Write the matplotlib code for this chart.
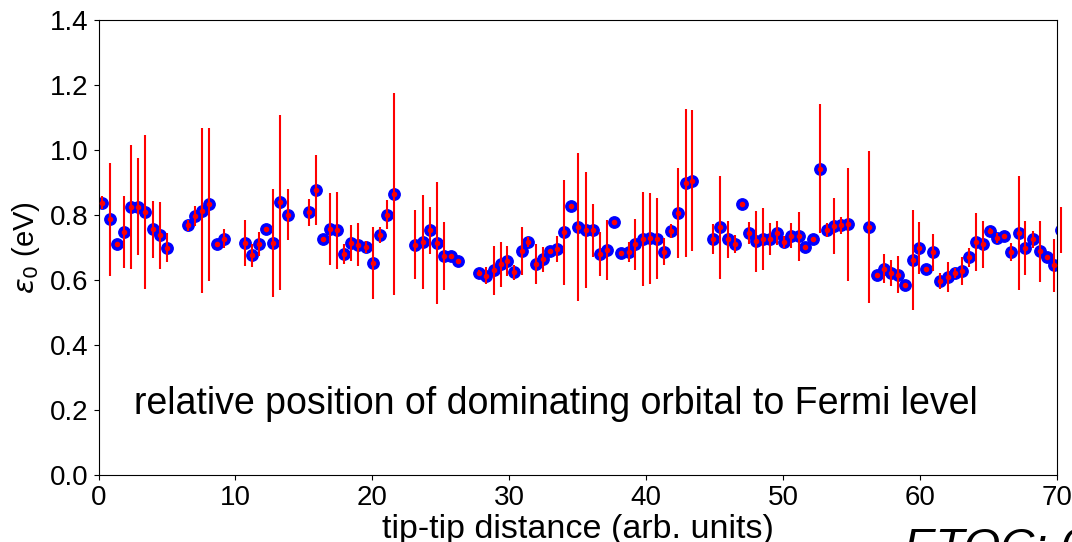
import matplotlib
matplotlib.use("Agg")
import matplotlib.pyplot as plt

# position of the dominating orbital vs tip-tip distance
dist = [0.28, 0.82, 1.35, 1.86, 2.37, 2.91, 3.42, 3.96, 4.47, 4.98,
        6.54, 7.05, 7.56, 8.09, 8.66, 9.15,
        10.68, 11.21, 11.75, 12.24, 12.77, 13.28, 13.82,
        15.35, 15.87, 16.40, 16.93, 17.44, 17.93, 18.47, 18.98, 19.52, 20.05,
        20.54, 21.05, 21.58,
        23.12, 23.68, 24.19, 24.73, 25.22, 25.73, 26.26,
        27.82, 28.33, 28.87, 29.38, 29.86, 30.35, 30.94, 31.40, 31.96, 32.47,
        33.00, 33.51, 34.02, 34.51, 35.05, 35.59, 36.14, 36.63, 37.14, 37.66,
        38.17, 38.75, 39.21, 39.75, 40.26, 40.80, 41.31, 41.82, 42.33, 42.89,
        43.38,
        44.91, 45.42, 45.98, 46.47, 46.98, 47.52, 48.03, 48.54, 49.05, 49.58,
        50.09, 50.61, 51.15, 51.63, 52.17, 52.70, 53.21, 53.72, 54.26, 54.77,
        56.30, 56.84, 57.38, 57.89, 58.42, 58.91, 59.47, 59.97, 60.45, 60.95,
        61.49, 62.03, 62.54, 63.07, 63.58, 64.09, 64.63, 65.14, 65.65, 66.17,
        66.68, 67.22, 67.70, 68.24, 68.75, 69.26, 69.77, 70.35]

eps0 = [0.838, 0.787, 0.710, 0.748, 0.825, 0.825, 0.809, 0.756, 0.737, 0.700,
        0.768, 0.797, 0.813, 0.833, 0.710, 0.727,
        0.714, 0.676, 0.712, 0.758, 0.714, 0.839, 0.801,
        0.808, 0.877, 0.725, 0.757, 0.753, 0.680, 0.713, 0.709, 0.702, 0.652,
        0.738, 0.801, 0.865,
        0.709, 0.718, 0.753, 0.715, 0.674, 0.675, 0.658,
        0.622, 0.613, 0.630, 0.648, 0.658, 0.624, 0.689, 0.717, 0.650, 0.664,
        0.688, 0.694, 0.747, 0.828, 0.764, 0.753, 0.753, 0.679, 0.693, 0.778,
        0.683, 0.685, 0.710, 0.727, 0.729, 0.727, 0.687, 0.751, 0.806, 0.898,
        0.905,
        0.726, 0.762, 0.725, 0.710, 0.835, 0.745, 0.719, 0.726, 0.726, 0.745,
        0.716, 0.736, 0.735, 0.702, 0.725, 0.943, 0.754, 0.767, 0.768, 0.771,
        0.764, 0.614, 0.635, 0.621, 0.616, 0.584, 0.662, 0.698, 0.634, 0.685,
        0.598, 0.609, 0.622, 0.628, 0.670, 0.716, 0.710, 0.751, 0.729, 0.736,
        0.686, 0.744, 0.698, 0.726, 0.688, 0.672, 0.645, 0.755]

eps0_err = [0.019, 0.174, 0.0, 0.111, 0.191, 0.149, 0.237, 0.087, 0.104, 0.046,
            0.017, 0.030, 0.254, 0.235, 0.0, 0.029,
            0.071, 0.035, 0.037, 0.0, 0.165, 0.270, 0.079,
            0.041, 0.109, 0.0, 0.111, 0.118, 0.030, 0.055, 0.066, 0.019, 0.110,
            0.025, 0.044, 0.310,
            0.105, 0.145, 0.073, 0.188, 0.105, 0.0, 0.0,
            0.010, 0.026, 0.076, 0.069, 0.047, 0.023, 0.073, 0.016, 0.062, 0.038,
            0.0, 0.040, 0.162, 0.0, 0.228, 0.179, 0.081, 0.068, 0.092, 0.0,
            0.0, 0.031, 0.079, 0.145, 0.140, 0.124, 0.041, 0.021, 0.139, 0.227,
            0.217,
            0.045, 0.158, 0.058, 0.027, 0.0, 0.034, 0.094, 0.095, 0.048, 0.037,
            0.019, 0.038, 0.075, 0.0, 0.0, 0.198, 0.021, 0.086, 0.025, 0.174,
            0.234, 0.0, 0.044, 0.040, 0.057, 0.0, 0.153, 0.080, 0.0, 0.056,
            0.025, 0.045, 0.015, 0.044, 0.029, 0.089, 0.072, 0.010, 0.016, 0.0,
            0.027, 0.176, 0.084, 0.026, 0.093, 0.0, 0.082, 0.071]

plt.rcParams["font.family"] = ["Liberation Sans", "DejaVu Sans"]

fig = plt.figure(figsize=(10.72, 5.42), dpi=100)
ax = fig.add_axes([0.0919, 0.1236, 0.8938, 0.8395])

# blue rings first, red errorbars + red centre on top
ax.plot(dist, eps0, "o", color="blue", ms=8.2, zorder=2)
eb = ax.errorbar(dist, eps0, yerr=eps0_err, fmt="o", color="red", ms=3.0,
                 ecolor="red", elinewidth=1.5, zorder=3)
for col in eb[2]:
    col.set_clip_on(False)

ax.set_xlim(0, 70)
ax.set_ylim(0, 1.4)
ax.set_xticks(range(0, 71, 10))
ax.set_yticks([0.0, 0.2, 0.4, 0.6, 0.8, 1.0, 1.2, 1.4])
ax.set_yticklabels([f"{v:.1f}" for v in ax.get_yticks()])
ax.tick_params(labelsize=20)

ax.set_xlabel("tip-tip distance (arb. units)", fontsize=24.5, labelpad=2)
ax.set_ylabel(r"$\varepsilon_0$ (eV)", fontsize=21, labelpad=6)

ax.text(33.4, 0.22, "relative position of dominating orbital to Fermi level",
        ha="center", va="center", fontsize=27)

fig.text(0.843, 0.028, "ETOC: 0", fontsize=34, style="italic",
         ha="left", va="top")

fig.savefig("out.png", dpi=100)
